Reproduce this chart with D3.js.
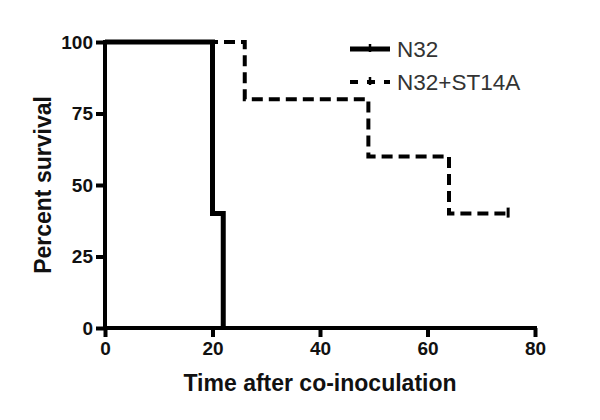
<!DOCTYPE html>
<html><head><meta charset="utf-8">
<script src="https://cdn.jsdelivr.net/npm/d3@7"></script>
<style>body{margin:0;background:#fff}svg{display:block}text{font-family:"Liberation Sans",Arial,sans-serif}</style>
</head><body>
<script>
const xTicks = [0, 20, 40, 60, 80];
const yTicks = [0, 25, 50, 75, 100];
const seriesNames = ["N32", "N32+ST14A"];
const timesN32 = [0, 20, 22];
const survN32 = [100, 40, 0];
const timesST = [0, 26, 49, 64, 75];
const survST = [100, 80, 60, 40, 40];
const censorST = [[75, 40]];

const W = 600, H = 420;
const svg = d3.select("body").append("svg").attr("width", W).attr("height", H);
const x = d3.scaleLinear().domain([0, 80]).range([105, 535]);
const y = d3.scaleLinear().domain([0, 100]).range([328, 42]);

const line = d3.line().x(d => x(d[0])).y(d => y(d[1])).curve(d3.curveStepAfter);
const dST = timesST.map((t, i) => [t, survST[i]]);
const dN = timesN32.map((t, i) => [t, survN32[i]]);

// axes
const gx = svg.append("g").attr("transform", `translate(0,${y(0)})`)
  .call(d3.axisBottom(x).tickValues(xTicks).tickSize(9).tickSizeOuter(0).tickPadding(5));
const gy = svg.append("g").attr("transform", `translate(${x(0)},0)`)
  .call(d3.axisLeft(y).tickValues(yTicks).tickSize(9).tickSizeOuter(0).tickPadding(3));
[gx, gy].forEach(g => {
  g.select(".domain").attr("stroke", "#000").attr("stroke-width", 4);
  g.selectAll(".tick line").attr("stroke", "#000").attr("stroke-width", 4);
  g.selectAll(".tick text").attr("fill", "#111").style("font-size", "19px").style("font-weight", "bold");
});
gx.select(".domain").attr("d", `M${x(0)-2},0H${x(80)+2}`);
gy.select(".domain").attr("d", `M0,${y(0)+2}V${y(100)-2}`);

// series
svg.append("path").datum(dST).attr("d", line).attr("fill", "none").attr("stroke", "#000")
  .attr("stroke-width", 4).attr("stroke-dasharray", "11,6").attr("stroke-linejoin", "miter");
svg.selectAll(".cens").data(censorST).enter().append("line")
  .attr("x1", d => x(d[0])).attr("x2", d => x(d[0]))
  .attr("y1", d => y(d[1]) - 6).attr("y2", d => y(d[1]) + 4)
  .attr("stroke", "#000").attr("stroke-width", 3);
svg.append("path").datum(dN).attr("d", line).attr("fill", "none").attr("stroke", "#000")
  .attr("stroke-width", 5).attr("stroke-linejoin", "miter");

// labels
svg.append("text").attr("x", 320).attr("y", 391).attr("text-anchor", "middle")
  .style("font-size", "23px").style("font-weight", "bold").attr("fill", "#111")
  .text("Time after co-inoculation");
svg.append("text").attr("transform", `translate(51,185) rotate(-90)`).attr("text-anchor", "middle")
  .style("font-size", "23px").style("font-weight", "bold").attr("fill", "#111")
  .text("Percent survival");

// legend
const leg = svg.append("g");
seriesNames.forEach((name, i) => {
  const ly = 49 + i * 33;
  leg.append("line").attr("x1", 350).attr("x2", 390).attr("y1", ly).attr("y2", ly)
    .attr("stroke", "#000").attr("stroke-width", i === 0 ? 5 : 4)
    .attr("stroke-dasharray", i === 0 ? null : "8,9");
  leg.append("line").attr("x1", 370).attr("x2", 370).attr("y1", ly - 5).attr("y2", ly + 3)
    .attr("stroke", "#000").attr("stroke-width", 2.5);
  leg.append("text").attr("x", 397).attr("y", ly + 8).style("font-size", "22.5px")
    .attr("fill", "#333").text(name);
});
</script>
</body></html>
